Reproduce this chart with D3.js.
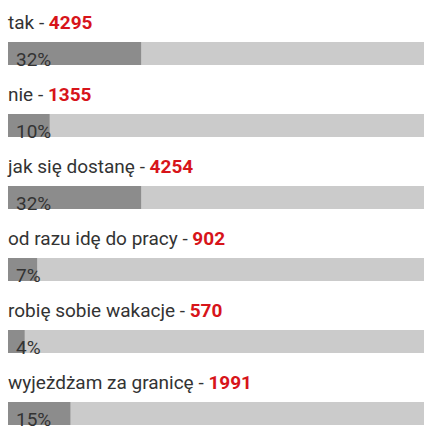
<!DOCTYPE html>
<html>
<head>
<meta charset="utf-8">
<script src="https://cdn.jsdelivr.net/npm/d3@7"></script>
<style>
  body { margin: 0; background: #fff; }
  text { font-family: "Liberation Sans Narrow", "Roboto", sans-serif; }
</style>
</head>
<body>
<svg id="chart" width="436" height="442"></svg>
<script>
const answers = ["tak", "nie", "jak się dostanę", "od razu idę do pracy", "robię sobie wakacje", "wyjeżdżam za granicę"]
const votes = [4295, 1355, 4254, 902, 570, 1991]
const percents = [32, 10, 32, 7, 4, 15]

const svg = d3.select('svg#chart')

const x = d3.scaleLinear().domain([0, 100]).range([8, 424])
const y = d3.scaleBand().domain(answers).range([0, 432]).paddingInner(0)

const rows = svg.selectAll("g.row")
                .data(answers)
                .join("g")
                .attr("class", "row")
                .attr("transform", d => `translate(0,${y(d)})`)

// title + count
const label = rows.append("text")
                  .attr("x", 8)
                  .attr("y", 29)
                  .attr("font-size", "19px")
                  .attr("fill", "#333")
label.append("tspan").text(d => d + " - ")
label.append("tspan")
     .attr("fill", "#d7141a")
     .attr("font-weight", "bold")
     .text((d, i) => votes[i])

// background track
rows.append("rect")
    .attr("x", x(0))
    .attr("y", 42)
    .attr("width", x(100) - x(0))
    .attr("height", 23)
    .attr("fill", "#cbcbcb")

// value bar
rows.append("rect")
    .attr("x", x(0))
    .attr("y", 42)
    .attr("width", (d, i) => x(percents[i]) - x(0))
    .attr("height", 23)
    .attr("fill", "#8c8c8c")

// percent label
rows.append("text")
    .attr("x", 16)
    .attr("y", 66)
    .attr("font-size", "19px")
    .attr("fill", "#333")
    .text((d, i) => percents[i] + "%")
</script>
</body>
</html>
